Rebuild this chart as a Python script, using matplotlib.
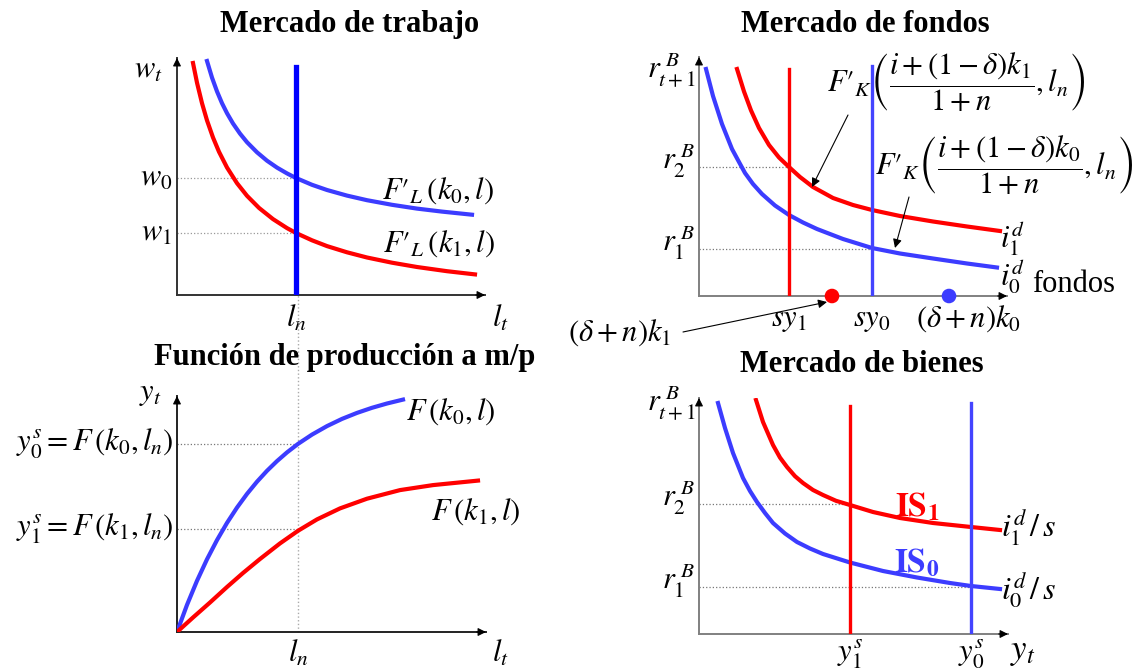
import matplotlib.pyplot as plt

plt.rcParams['font.family'] = ['Liberation Serif', 'DejaVu Serif']
plt.rcParams['mathtext.fontset'] = 'stix'

RED = '#ff0000'
BLUE = '#3c3cff'

# --- Mercado de trabajo (labour demand curves) ---
lab_l0 = [30, 35, 40, 45, 50, 56, 63, 70, 80, 90, 100, 110, 119, 135, 150, 170, 190, 215, 240, 265, 295]
lab_w0 = [234, 217.4, 203.6, 191.8, 181.8, 171.5, 161.4, 152.8, 142.7, 134.3, 127.4, 121.6, 117,
          110.2, 105, 99.4, 94.8, 90.2, 86.4, 83.4, 80.3]
lab_l1 = [16, 20, 25, 30, 36, 42, 50, 60, 70, 82, 96, 110, 119, 135, 150, 170, 190, 215, 240, 270, 298]
lab_w1 = [232, 212.3, 191.8, 174.6, 157.5, 143.2, 127.5, 111.8, 99.2, 87.1, 75.9, 66.9, 62,
          54.7, 48.9, 42.7, 37.5, 32.3, 28, 23.8, 20.6]
lab_ln = 119
lab_ln_top = 228
lab_wlev = [117, 62]

# --- Mercado de fondos ---
fon_x1 = [38, 45, 52, 60, 70, 80, 90, 101, 114, 134, 154, 173, 201, 234, 268, 301]
fon_r1 = [227, 204.5, 185.6, 168, 151, 138.5, 129, 119, 109, 98, 91, 86, 80, 74.5, 69.5, 65]
fon_x0 = [7, 14, 23, 33, 40, 46, 54, 63, 76, 90, 104, 118, 144, 173, 201, 234, 268, 298]
fon_r0 = [227, 200, 172, 147, 134, 123, 112, 102, 90.5, 81, 73.5, 67, 57, 48, 42.5, 37.5, 32.5, 28.5]
fon_sy = [90, 173]
fon_sy_top = [227, 230]
fon_dep = [133, 250]
fon_rlev = [129, 47]

# --- Función de producción ---
prod_l0 = [0, 10, 20, 30, 40, 50, 60, 70, 80, 90, 100, 110, 121, 135, 150, 165, 180, 195, 210, 226]
prod_y0 = [0, 27.1, 51.2, 72.7, 91.9, 109.1, 124.4, 138.1, 150.3, 161.2, 170.9, 179.6, 188.1,
           197.4, 205.9, 213.1, 219.1, 224.2, 228.5, 232.4]
prod_l1 = [0, 16, 33, 50, 66, 83, 103, 121, 140, 163, 190, 223, 256, 301]
prod_y1 = [0, 14.5, 29.5, 45, 59, 73, 88.6, 101.2, 112.6, 123.6, 133.3, 141.9, 146.9, 151.4]
prod_ln = 121
prod_ylev = [188, 103]

# --- Mercado de bienes ---
bie_y1 = [57, 64, 74, 81, 88, 96, 104, 114, 124, 137, 151, 174, 201, 234, 272, 301]
bie_r1 = [234, 212, 189, 176.4, 167, 157.8, 151, 144, 139, 133.2, 129, 122, 116, 111, 107, 104]
bie_y0 = [19, 26, 34, 44, 51, 58, 66, 74, 86, 98, 111, 124, 151, 184, 218, 251, 272, 301]
bie_r0 = [231, 206, 181, 156, 143, 132, 121, 111, 100.5, 92, 85.5, 80, 71.5, 63, 56.5, 51, 48, 45]
bie_ys = [151, 272]
bie_ys_top = [228, 231]
bie_rlev = [130, 47]

FW, FH = 1139, 670
fig = plt.figure(figsize=(FW / 100, FH / 100), dpi=100)


def make_ax(ox, oy, L, H, axcol):
    ax = fig.add_axes([ox / FW, (FH - oy) / FH, L / FW, H / FH])
    ax.set_xlim(0, L)
    ax.set_ylim(0, H)
    ax.axis('off')
    for tip in [(L, 0), (0, H)]:
        ax.plot([0, tip[0]], [0, tip[1]], color=axcol, lw=1.4, clip_on=False, zorder=2)
        ax.annotate('', xy=tip, xytext=(tip[0] * 0.97, tip[1] * 0.97), annotation_clip=False,
                    arrowprops=dict(arrowstyle='-|>', color='black', lw=0.8,
                                    mutation_scale=12, shrinkA=0, shrinkB=0))
    return ax


def hdots(ax, x, y, col='#777777'):
    ax.plot([0, x], [y, y], ls=':', lw=0.9, color=col, zorder=1)


M = 22  # math label size
T = 22  # title size
P = '\u2032'  # prime drawn at full size, as in F'_L

# ---------- panel 1 ----------
ax1 = make_ax(177, 295, 308, 237, '#333333')
ax1.plot(lab_l0, lab_w0, color=BLUE, lw=3)
ax1.plot(lab_l1, lab_w1, color=RED, lw=3)
ax1.plot([lab_ln, lab_ln], [0, lab_ln_top], color='#0000ff', lw=3.8)
for w in lab_wlev:
    hdots(ax1, lab_ln, w, '#999999')
ax1.text(173, 271, 'Mercado de trabajo', fontsize=T, fontweight='bold', ha='center', va='center')
ax1.text(-29, 225, r'$w_t$', fontsize=M, ha='center', va='center')
ax1.text(-5, lab_wlev[0], r'$w_0$', fontsize=M, ha='right', va='center')
ax1.text(-5, lab_wlev[1], r'$w_1$', fontsize=M, ha='right', va='center')
ax1.text(lab_ln, -24, r'$l_n$', fontsize=M, ha='center', va='center')
ax1.text(323, -24, r'$l_t$', fontsize=M, ha='center', va='center')
ax1.text(205, 104, '$F' + P + r'_L\,(k_0,l)$', fontsize=M, ha='left', va='center')
ax1.text(206, 51, '$F' + P + r'_L\,(k_1,l)$', fontsize=M, ha='left', va='center')

# ---------- panel 2 ----------
ax2 = make_ax(699, 296, 308, 239, '#808080')
ax2.plot(fon_x1, fon_r1, color=RED, lw=3)
ax2.plot(fon_x0, fon_r0, color=BLUE, lw=3)
ax2.plot([fon_sy[0]] * 2, [0, fon_sy_top[0]], color=RED, lw=2.4)
ax2.plot([fon_sy[1]] * 2, [0, fon_sy_top[1]], color='#4444ff', lw=2.4)
hdots(ax2, fon_sy[0], fon_rlev[0])
hdots(ax2, fon_sy[1], fon_rlev[1])
ax2.scatter(fon_dep, [0, 0], s=90, color=[RED, BLUE], zorder=5, clip_on=False)
arr = dict(arrowstyle='-|>', color='black', lw=0.8, mutation_scale=13, shrinkA=0, shrinkB=0)
ax2.annotate('', xy=(113, 109), xytext=(149, 181), arrowprops=arr, annotation_clip=False)
ax2.annotate('', xy=(196, 48), xytext=(210, 99), arrowprops=arr, annotation_clip=False)
ax2.annotate('', xy=(128, -6), xytext=(-16, -36), arrowprops=arr, annotation_clip=False)
ax2.text(166, 271, 'Mercado de fondos', fontsize=T, fontweight='bold', ha='center', va='center')
ax2.text(-3, 226, r'$r_{t+1}^{\ B}$', fontsize=M, ha='right', va='center')
ax2.text(-3, fon_rlev[0] + 6, r'$r_2^{\ B}$', fontsize=M, ha='right', va='center')
ax2.text(-3, fon_rlev[1] + 6, r'$r_1^{\ B}$', fontsize=M, ha='right', va='center')
ax2.text(fon_sy[0], -23, r'$sy_1$', fontsize=M, ha='center', va='center')
ax2.text(fon_sy[1], -23, r'$sy_0$', fontsize=M, ha='center', va='center')
ax2.text(269, -23, r'$(\delta+n)k_0$', fontsize=M, ha='center', va='center')
ax2.text(-79, -37, r'$(\delta+n)k_1$', fontsize=M, ha='center', va='center')
ax2.text(301, 58, r'$i_1^d$', fontsize=M, ha='left', va='center')
ax2.text(301, 20, r'$i_0^d$', fontsize=M, ha='left', va='center')
ax2.text(333, 11, 'fondos', fontsize=M, ha='left', va='center')
ax2.text(128, 214, '$F' + P + r'_K\left(\dfrac{i+(1-\delta)k_1}{1+n},l_n\right)$',
         fontsize=M, ha='left', va='center')
ax2.text(176, 131, '$F' + P + r'_K\left(\dfrac{i+(1-\delta)k_0}{1+n},l_n\right)$',
         fontsize=M, ha='left', va='center')

# ---------- panel 3 ----------
ax3 = make_ax(177, 632, 309, 236, '#222222')
ax3.plot(prod_l0, prod_y0, color=BLUE, lw=3)
ax3.plot(prod_l1, prod_y1, color=RED, lw=3)
ax3.plot([prod_ln, prod_ln], [0, 337], ls=':', lw=1, color='#aaaaaa', clip_on=False, zorder=0)
for y in prod_ylev:
    hdots(ax3, prod_ln, y)
ax3.text(168, 275, 'Función de producción a m/p', fontsize=T, fontweight='bold', ha='center', va='center')
ax3.text(-27, 238, r'$y_t$', fontsize=M, ha='center', va='center')
ax3.text(-4, prod_ylev[0], r'$y_0^s=F\,(k_0,l_n)$', fontsize=M, ha='right', va='center')
ax3.text(-4, prod_ylev[1], r'$y_1^s=F\,(k_1,l_n)$', fontsize=M, ha='right', va='center')
ax3.text(prod_ln, -22, r'$l_n$', fontsize=M, ha='center', va='center')
ax3.text(323, -22, r'$l_t$', fontsize=M, ha='center', va='center')
ax3.text(229, 220, r'$F\,(k_0,l)$', fontsize=M, ha='left', va='center')
ax3.text(254, 120, r'$F\,(k_1,l)$', fontsize=M, ha='left', va='center')

# ---------- panel 4 ----------
ax4 = make_ax(699, 634, 309, 236, '#808080')
ax4.plot(bie_y1, bie_r1, color=RED, lw=3)
ax4.plot(bie_y0, bie_r0, color=BLUE, lw=3)
ax4.plot([bie_ys[0]] * 2, [0, bie_ys_top[0]], color=RED, lw=2.4)
ax4.plot([bie_ys[1]] * 2, [0, bie_ys_top[1]], color='#4444ff', lw=2.4)
hdots(ax4, bie_ys[0], bie_rlev[0])
hdots(ax4, bie_ys[1], bie_rlev[1])
ax4.text(163, 270, 'Mercado de bienes', fontsize=T, fontweight='bold', ha='center', va='center')
ax4.text(-3, 231, r'$r_{t+1}^{\ B}$', fontsize=M, ha='right', va='center')
ax4.text(-3, bie_rlev[0] + 6, r'$r_2^{\ B}$', fontsize=M, ha='right', va='center')
ax4.text(-3, bie_rlev[1] + 6, r'$r_1^{\ B}$', fontsize=M, ha='right', va='center')
ax4.text(bie_ys[0], -20, r'$y_1^s$', fontsize=M, ha='center', va='center')
ax4.text(bie_ys[1], -20, r'$y_0^s$', fontsize=M, ha='center', va='center')
ax4.text(324, -18, r'$y_t$', fontsize=M + 3, ha='center', va='center')
ax4.text(218, 127, r'$\mathbf{IS_1}$', fontsize=M + 2, color=RED, ha='center', va='center')
ax4.text(218, 71, r'$\mathbf{IS_0}$', fontsize=M + 2, color=BLUE, ha='center', va='center')
ax4.text(302, 106, r'$i_1^d\,/\,s$', fontsize=M + 1, ha='left', va='center')
ax4.text(302, 44, r'$i_0^d\,/\,s$', fontsize=M + 1, ha='left', va='center')

fig.savefig('out.png', dpi=100)
